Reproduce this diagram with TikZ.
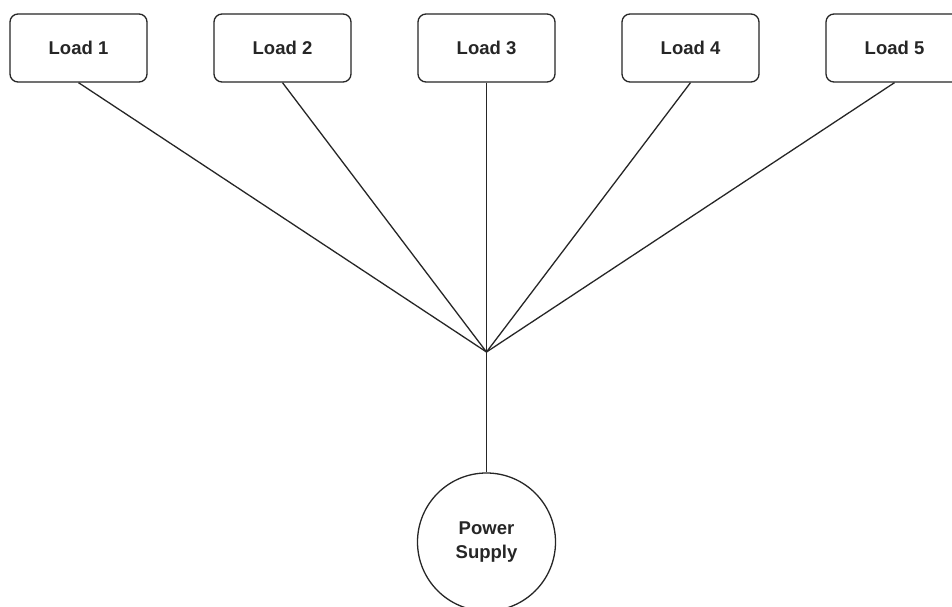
\documentclass[tikz,border=0pt]{standalone}
\usepackage{fontspec}
\setmainfont{Liberation Sans}
\begin{document}
\begin{tikzpicture}[x=1pt,y=-1pt,
  loadbox/.style={draw=black!85, line width=1.3pt, rounded corners=8pt, minimum width=137pt, minimum height=68pt, inner sep=0pt, font=\fontsize{18.5}{22}\selectfont\bfseries, text=black!85},
  conn/.style={draw=black!85, line width=1.3pt},
  supply/.style={draw=black!85, line width=1.3pt, circle, minimum size=138pt, inner sep=0pt, align=center, font=\fontsize{18.5}{24}\selectfont\bfseries, text=black!85}]
\useasboundingbox (0,0) rectangle (952,607);
\fill[white] (0,0) rectangle (952,607);
\node[loadbox] (L1) at (78.5,48) {Load 1};
\node[loadbox] (L2) at (282.5,48) {Load 2};
\node[loadbox] (L3) at (486.5,48) {Load 3};
\node[loadbox] (L4) at (690.5,48) {Load 4};
\node[loadbox] (L5) at (894.5,48) {Load 5};
\coordinate (J) at (486.5,352);
\node[supply] (PS) at (486.5,542) {Power\\Supply};
\foreach \n in {L1,L2,L3,L4,L5} \draw[conn] (\n.south) -- (J);
\draw[conn] (J) -- (PS.north);
\end{tikzpicture}
\end{document}
